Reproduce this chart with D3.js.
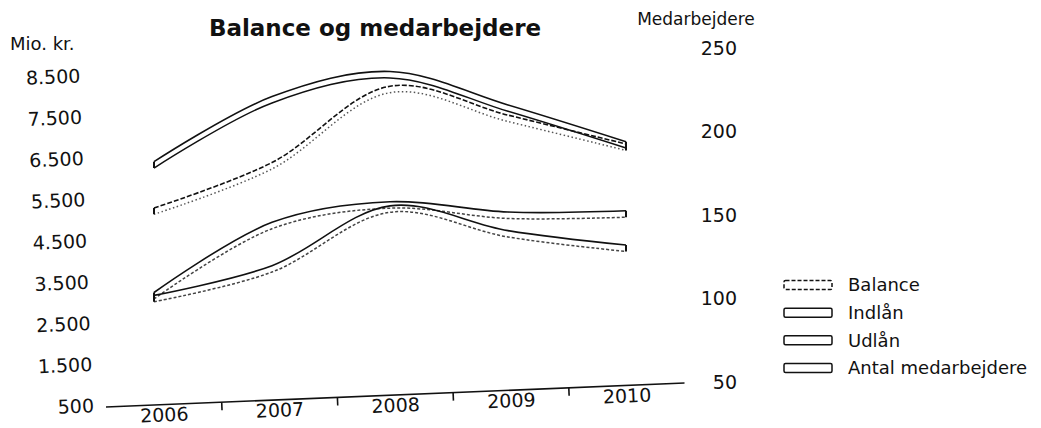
<!DOCTYPE html>
<html>
<head>
<meta charset="utf-8">
<script src="https://cdn.jsdelivr.net/npm/d3@7"></script>
<style>
  body { margin: 0; background: #fff; }
  text { font-family: "DejaVu Sans", Verdana, sans-serif; fill: #111; }
</style>
</head>
<body>
<div id="chart"></div>
<script>
// Data
const years = ["2006", "2007", "2008", "2009", "2010"];
const balance = [5200, 6300, 8150, 7450, 6750];       // mio. kr.
const indlaan = [3150, 4850, 5350, 5100, 5130];       // mio. kr.
const udlaan = [3080, 3800, 5250, 4650, 4300];        // mio. kr.
const medarbejdere = [180, 219, 234, 214, 192];       // antal
const leftTicks = [500, 1500, 2500, 3500, 4500, 5500, 6500, 7500, 8500];
const rightTicks = [50, 100, 150, 200, 250];
const legendNames = ["Balance", "Indlån", "Udlån", "Antal medarbejdere"];

const width = 1041;
const height = 428;
const tilt = -2.37; // the scan is slightly rotated

const svg = d3.select("#chart")
    .append("svg")
    .attr("width", width)
    .attr("height", height);

// Scales
const xBand = d3.scaleBand().domain(years).range([106, 685]);
const xLine = d3.scalePoint().domain(years).range([154, 626]);
const yLeft = d3.scaleLinear().domain([500, 8500]).range([405, 75]);
const yRight = d3.scaleLinear().domain([50, 250]).range([382, 48]);

const fmt = d => d3.format(",")(d).replace(/,/g, ".");

// Title and axis titles
svg.append("text")
    .attr("x", 375).attr("y", 36)
    .attr("text-anchor", "middle")
    .attr("font-size", "23px")
    .attr("font-weight", "bold")
    .text("Balance og medarbejdere");

svg.append("text")
    .attr("x", 10).attr("y", 50)
    .attr("font-size", "18px")
    .text("Mio. kr.");

svg.append("text")
    .attr("x", 696).attr("y", 25)
    .attr("text-anchor", "middle")
    .attr("font-size", "17px")
    .text("Medarbejdere");

// Left axis labels (tilted with the scan)
const leftAxis = svg.append("g")
    .attr("transform", `rotate(${tilt}, 106, 407)`);
leftAxis.selectAll("text")
    .data(leftTicks)
    .join("text")
    .attr("x", 94)
    .attr("y", d => yLeft(d))
    .attr("dy", "0.36em")
    .attr("text-anchor", "end")
    .attr("font-size", "19px")
    .text(fmt);

// Right axis labels
svg.append("g").selectAll("text")
    .data(rightTicks)
    .join("text")
    .attr("x", 737)
    .attr("y", d => yRight(d))
    .attr("dy", "0.36em")
    .attr("text-anchor", "end")
    .attr("font-size", "19px")
    .text(d => d);

// X axis (tilted)
const xAxis = svg.append("g")
    .attr("transform", `rotate(${tilt}, 106, 407)`);
xAxis.append("line")
    .attr("x1", xBand.range()[0]).attr("x2", xBand.range()[1])
    .attr("y1", 407).attr("y2", 407)
    .attr("stroke", "#111").attr("stroke-width", 1.6);
xAxis.selectAll("line.tick")
    .data(years.slice(1))
    .join("line")
    .attr("class", "tick")
    .attr("x1", d => xBand(d)).attr("x2", d => xBand(d))
    .attr("y1", 407).attr("y2", 415)
    .attr("stroke", "#111").attr("stroke-width", 1.6);
xAxis.selectAll("text")
    .data(years)
    .join("text")
    .attr("x", d => xBand(d) + xBand.bandwidth() / 2)
    .attr("y", 424)
    .attr("text-anchor", "middle")
    .attr("font-size", "19px")
    .text(d => d);

// Lines drawn as hollow "double" strokes
const series = [
    { name: "Balance", values: balance, y: yLeft, upper: "5,2", lower: "1.5,2.5", lowerColor: "#555" },
    { name: "Indlån", values: indlaan, y: yLeft, upper: null, lower: "3,2", lowerColor: "#444" },
    { name: "Udlån", values: udlaan, y: yLeft, upper: null, lower: "3,2", lowerColor: "#444" },
    { name: "Antal medarbejdere", values: medarbejdere, y: yRight, upper: null, lower: null, lowerColor: "#111" }
];

const gap = 3.2;
const plot = svg.append("g");

series.forEach(s => {
    const pts = years.map((yr, i) => ({ x: xLine(yr), y: s.y(s.values[i]) }));
    const line = d3.line()
        .x(d => d.x)
        .y(d => d.y)
        .curve(d3.curveCatmullRom.alpha(0.5));

    const g = plot.append("g");
    g.append("path")
        .attr("d", line(pts))
        .attr("transform", `translate(0,${-gap})`)
        .attr("fill", "none")
        .attr("stroke", "#111")
        .attr("stroke-width", 1.6)
        .attr("stroke-dasharray", s.upper);
    g.append("path")
        .attr("d", line(pts))
        .attr("transform", `translate(0,${gap})`)
        .attr("fill", "none")
        .attr("stroke", s.lowerColor)
        .attr("stroke-width", 1.5)
        .attr("stroke-dasharray", s.lower);
    // closed ends
    g.selectAll("line")
        .data([pts[0], pts[pts.length - 1]])
        .join("line")
        .attr("x1", d => d.x).attr("x2", d => d.x)
        .attr("y1", d => d.y - gap).attr("y2", d => d.y + gap)
        .attr("stroke", "#111")
        .attr("stroke-width", 2);
});

// Legend
const legendY = d3.scalePoint().domain(legendNames).range([285, 368]);
const legend = svg.append("g");
const item = legend.selectAll("g")
    .data(series)
    .join("g")
    .attr("transform", d => `translate(0,${legendY(d.name)})`);
item.append("rect")
    .attr("x", 784).attr("y", -4.5)
    .attr("width", 48).attr("height", 9)
    .attr("rx", 1.5)
    .attr("fill", "#fff")
    .attr("stroke", "#111")
    .attr("stroke-width", 1.5)
    .attr("stroke-dasharray", d => d.name === "Balance" ? "4,2" : null);
item.append("text")
    .attr("x", 848)
    .attr("y", 0)
    .attr("dy", "0.36em")
    .attr("font-size", "18px")
    .text(d => d.name);
</script>
</body>
</html>
